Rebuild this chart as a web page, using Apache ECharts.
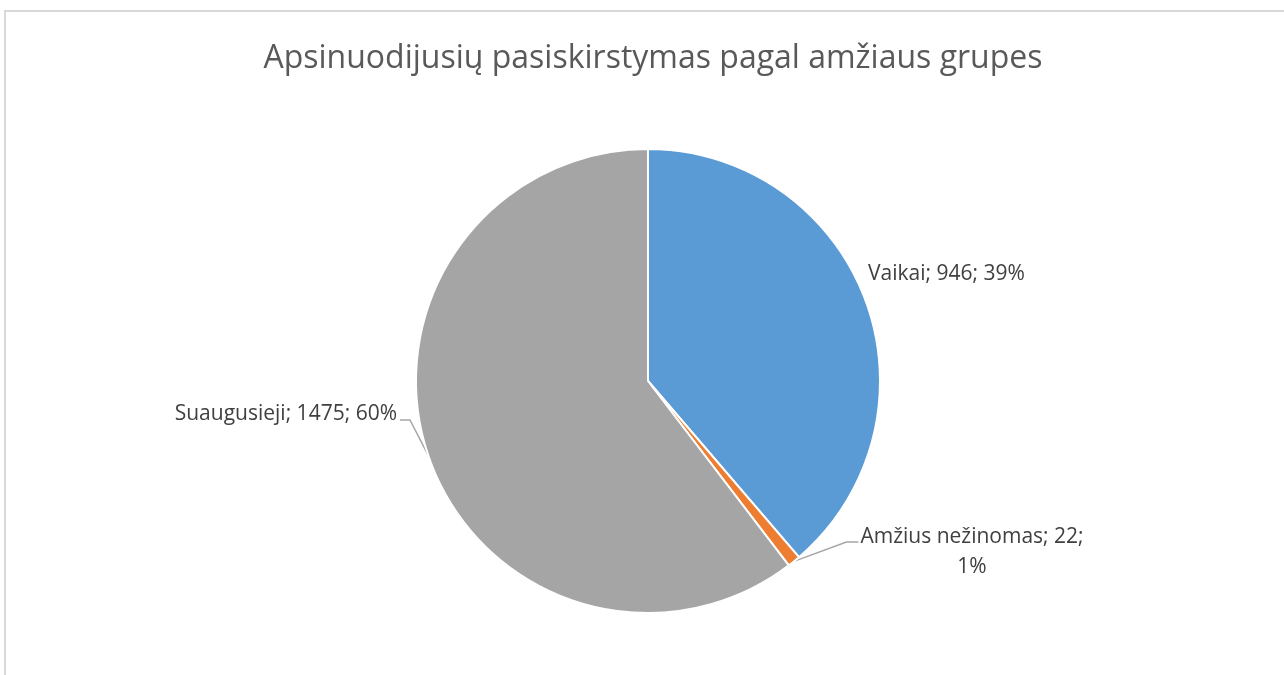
<!DOCTYPE html>
<html>
<head>
<meta charset="utf-8">
<script src="https://cdn.jsdelivr.net/npm/echarts@6/dist/echarts.min.js"></script>
<style>html,body{margin:0;padding:0;background:#fff;}#c{width:1284px;height:675px;}</style>
</head>
<body>
<div id="c"></div>
<script>
const categories = ['Vaikai', 'Amžius nežinomas', 'Suaugusieji'];
const values = [946, 22, 1475];
const colors = ['#5B9BD5', '#ED7D31', '#A5A5A5'];
const titleText = 'Apsinuodijusių pasiskirstymas pagal amžiaus grupes';

const chart = echarts.init(document.getElementById('c'));
const FONT = 'Open Sans';
const labelPos = [
  {x: 868, y: 274, align: 'left'},
  {x: 972, y: 552, align: 'center'},
  {x: 397, y: 414, align: 'right'}
];
chart.setOption({
  animation: false,
  graphic: [{
    type: 'rect', shape: {x: 5, y: 11, width: 1400, height: 800},
    style: {fill: 'none', stroke: '#d9d9d9', lineWidth: 2}, silent: true
  }],
  title: {
    text: titleText, left: 648, textAlign: 'center', top: 38,
    textStyle: {fontFamily: FONT, fontSize: 32, fontWeight: 'normal', color: '#595959'}
  },
  series: [{
    type: 'pie',
    center: [648, 381],
    radius: [0, 232],
    startAngle: 90,
    clockwise: true,
    percentPrecision: 0,
    data: categories.map((n, i) => ({
      name: n, value: values[i], itemStyle: {color: colors[i]},
      labelLine: {show: i !== 0}
    })),
    itemStyle: {borderColor: '#fff', borderWidth: 2},
    label: {
      fontFamily: FONT, fontSize: 21, color: '#404040', lineHeight: 30,
      formatter: p => p.dataIndex === 1
        ? p.name + '; ' + p.value + ';\n' + p.percent + '%'
        : p.name + '; ' + p.value + '; ' + p.percent + '%'
    },
    labelLine: {lineStyle: {color: '#a6a6a6', width: 1.5}, length: 20, length2: 20},
    labelLayout: p => {
      const lp = labelPos[p.dataIndex];
      const out = {x: lp.x, y: lp.y, align: lp.align, verticalAlign: 'middle'};
      const a = p.labelLinePoints && p.labelLinePoints[0];
      if (a && p.dataIndex === 1) {
        const left = lp.x - p.labelRect.width / 2;
        const ly = lp.y - 15 + 5;
        out.labelLinePoints = [a, [left - 14, ly], [left - 2, ly]];
      } else if (a && p.dataIndex === 2) {
        const ly = lp.y + 6;
        out.labelLinePoints = [a, [lp.x + 13, ly], [lp.x + 3, ly]];
      }
      return out;
    }
  }]
});
</script>
</body>
</html>
